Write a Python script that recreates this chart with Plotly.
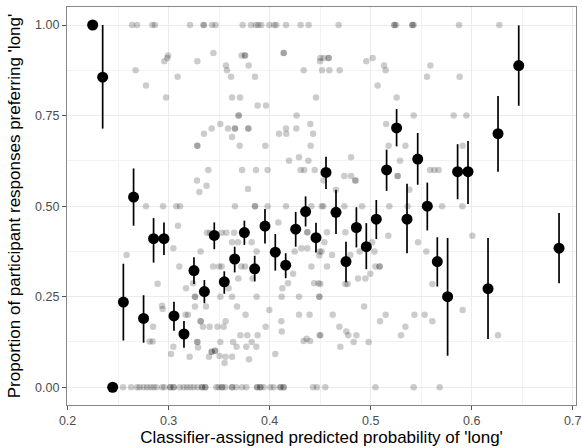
import plotly.graph_objects as go

# Binned means (black points) with intervals
bin_x = [0.2248, 0.2347, 0.2446, 0.2552, 0.2653, 0.2752, 0.2851, 0.2954, 0.3053, 0.3152,
         0.3251, 0.3354, 0.3452, 0.3551, 0.3654, 0.3750, 0.3852, 0.3954, 0.4056, 0.4159,
         0.4258, 0.4356, 0.4459, 0.4558, 0.4657, 0.4756, 0.4859, 0.4957, 0.5056, 0.5158,
         0.5257, 0.5360, 0.5466, 0.5561, 0.5660, 0.5762, 0.5861, 0.5964, 0.6162, 0.6261,
         0.6466, 0.6865]
bin_y = [1.000, 0.856, 0.000, 0.235, 0.525, 0.190, 0.410, 0.410, 0.197, 0.147,
         0.322, 0.264, 0.419, 0.291, 0.354, 0.427, 0.327, 0.445, 0.373, 0.337,
         0.4365, 0.485, 0.413, 0.593, 0.483, 0.347, 0.441, 0.388, 0.464, 0.600,
         0.716, 0.464, 0.630, 0.500, 0.347, 0.250, 0.595, 0.595, 0.272, 0.700,
         0.888, 0.384]
bin_lo = [1.000, 0.714, 0.000, 0.129, 0.446, 0.123, 0.344, 0.365, 0.156, 0.109,
          0.285, 0.232, 0.381, 0.258, 0.317, 0.393, 0.292, 0.397, 0.322, 0.301,
          0.388, 0.444, 0.372, 0.547, 0.423, 0.290, 0.386, 0.326, 0.409, 0.542,
          0.665, 0.370, 0.559, 0.433, 0.278, 0.087, 0.519, 0.506, 0.133, 0.595,
          0.777, 0.287]
bin_hi = [1.000, 1.000, 0.000, 0.341, 0.604, 0.254, 0.467, 0.455, 0.236, 0.183,
          0.359, 0.296, 0.455, 0.320, 0.388, 0.460, 0.363, 0.492, 0.423, 0.370,
          0.484, 0.527, 0.454, 0.636, 0.545, 0.402, 0.497, 0.453, 0.517, 0.656,
          0.768, 0.562, 0.702, 0.565, 0.414, 0.412, 0.671, 0.680, 0.412, 0.804,
          0.999, 0.481]

# Individual items (grey points)
item_x = [
    # y = 1
    0.2638, 0.2687, 0.2839, 0.2865, 0.3212, 0.3347, 0.3347, 0.3430, 0.3465, 0.3733,
    0.3816, 0.3865, 0.3888, 0.3918, 0.3997, 0.4046, 0.4066, 0.4162, 0.4307, 0.4386,
    0.4683, 0.5235, 0.5235, 0.5252, 0.5413, 0.5413, 0.5426, 0.5875, 0.6274,
    # upper region
    0.2673, 0.2776, 0.2974, 0.2957, 0.2994, 0.2987, 0.3089, 0.3284, 0.3443, 0.3568,
    0.3578, 0.3618, 0.3628, 0.3707, 0.3723, 0.3756, 0.3756, 0.3792, 0.3855, 0.3881,
    0.3964, 0.4139, 0.4139, 0.4337, 0.4459, 0.4499, 0.4502, 0.4535, 0.4584, 0.4584,
    0.4519, 0.4591, 0.4693,
    0.3693, 0.3693, 0.3512, 0.3426, 0.3350, 0.3588, 0.3657, 0.3657, 0.3628, 0.3789,
    0.3789, 0.3284, 0.3284, 0.3703, 0.3957, 0.4093, 0.4162, 0.4165, 0.4267, 0.4264,
    0.4403, 0.4430, 0.4406, 0.4192, 0.4291, 0.4383, 0.3393, 0.3727, 0.3865, 0.3980,
    0.4307, 0.4343, 0.4446, 0.3281, 0.3376, 0.3304, 0.3786, 0.4535,
    0.4957, 0.5020, 0.5133, 0.5149, 0.5069, 0.5257, 0.5591, 0.5558, 0.5881, 0.5426,
    0.5822, 0.5948, 0.5153, 0.5178, 0.5344, 0.5291, 0.5267, 0.5267, 0.4806, 0.4740,
    0.4806, 0.4849, 0.4849, 0.4657, 0.5383, 0.5588, 0.5631, 0.5673, 0.5911,
    # y = 0.5
    0.2776, 0.2945, 0.3076, 0.3113, 0.3657, 0.3855, 0.3855, 0.3980, 0.4162, 0.4413,
    0.4515, 0.4532, 0.4740, 0.4915, 0.5185, 0.5366, 0.5707, 0.5908,
    # lower-left region
    0.3093, 0.2584, 0.3047, 0.3317, 0.3380, 0.3410, 0.3525, 0.3571, 0.3648, 0.3628,
    0.3687, 0.3822, 0.3871, 0.4086, 0.3440, 0.3499, 0.3525, 0.3106, 0.3720, 0.3756,
    0.3172, 0.2891, 0.3242, 0.3261, 0.3261, 0.3370, 0.3261, 0.3512, 0.3628, 0.3594,
    0.3690, 0.3832, 0.3871, 0.4119, 0.3677, 0.3762, 0.3997, 0.4126, 0.4182, 0.4232,
    0.4291, 0.4440, 0.4485, 0.4413, 0.4248, 0.4314, 0.4373, 0.4495, 0.4515, 0.4373,
    0.4373, 0.4492, 0.4396, 0.4291, 0.4492, 0.4492, 0.4495, 0.4337, 0.4366, 0.4400,
    0.2846, 0.2812, 0.2842, 0.2935, 0.2941, 0.3168, 0.3192, 0.3317, 0.3317, 0.3340,
    0.3406, 0.3485, 0.3545, 0.3564, 0.3961, 0.4116, 0.4120, 0.3284, 0.3284, 0.3291,
    0.3047, 0.3024, 0.3208, 0.3400, 0.3426, 0.3426, 0.3460, 0.3460, 0.3512, 0.3638,
    0.3505, 0.3564, 0.3628, 0.3554, 0.3673, 0.3710, 0.3779, 0.3822, 0.3769, 0.3868,
    0.3881, 0.3796, 0.4056,
    # lower-right region
    0.4568, 0.4750, 0.4542, 0.4618, 0.4799, 0.4568, 0.4891, 0.5037, 0.5014, 0.5175,
    0.5047, 0.5089, 0.5089, 0.5469, 0.5551, 0.6007, 0.4750, 0.4772, 0.4875, 0.4948,
    0.4997, 0.5611, 0.4502, 0.4935, 0.4624, 0.5093, 0.5149, 0.5433, 0.5535, 0.5611,
    0.5911, 0.4690, 0.4759, 0.4779, 0.4859, 0.4832, 0.4700, 0.4980, 0.4502, 0.5301,
    0.5344, 0.6261,
    # y = 0
    0.2549, 0.2628, 0.2687, 0.2713, 0.2752, 0.2786, 0.2819, 0.2851, 0.2878, 0.2935,
    0.2957, 0.3016, 0.3016, 0.3050, 0.3050, 0.3109, 0.3149, 0.3182, 0.3215, 0.3248,
    0.3287, 0.3331, 0.3331, 0.3363, 0.3363, 0.3472, 0.3495, 0.3529, 0.3529, 0.3561,
    0.3628, 0.3628, 0.3670, 0.3727, 0.3769, 0.3875, 0.3875, 0.3908, 0.3908, 0.3941,
    0.4007, 0.4040, 0.4106, 0.4106, 0.4139, 0.4139, 0.4430, 0.4469, 0.4551, 0.5047,
    0.5426, 0.5683,
]
item_y = (
    [1.0] * 29
    + [0.875, 0.833, 0.800, 0.900, 0.916, 0.909, 0.857, 0.900, 0.923, 0.888,
       0.875, 0.857, 0.800, 0.800, 0.916, 0.916, 0.916, 0.888, 0.857, 0.778,
       0.778, 0.923, 0.923, 0.875, 0.800, 0.900, 0.909, 0.909, 0.909, 0.909,
       0.875, 0.875, 0.875,
       0.750, 0.750, 0.727, 0.714, 0.700, 0.714, 0.714, 0.714, 0.691, 0.714,
       0.714, 0.667, 0.667, 0.667, 0.667, 0.700, 0.714, 0.700, 0.750, 0.714,
       0.727, 0.700, 0.667, 0.625, 0.635, 0.625, 0.600, 0.600, 0.600, 0.600,
       0.600, 0.600, 0.600, 0.571, 0.556, 0.539, 0.547, 0.571,
       0.900, 0.909, 0.888, 0.875, 0.833, 0.800, 0.888, 0.857, 0.857, 0.750,
       0.750, 0.750, 0.727, 0.667, 0.667, 0.625, 0.583, 0.583, 0.635, 0.583,
       0.583, 0.571, 0.571, 0.545, 0.545, 0.600, 0.600, 0.600, 0.667]
    + [0.5] * 18
    + [0.446, 0.365, 0.384, 0.375, 0.4265, 0.4265, 0.4265, 0.4265, 0.4265, 0.400,
       0.400, 0.400, 0.375, 0.455, 0.333, 0.333, 0.333, 0.333, 0.333, 0.333,
       0.2735, 0.286, 0.287, 0.250, 0.250, 0.223, 0.223, 0.250, 0.250, 0.2735,
       0.300, 0.300, 0.250, 0.250, 0.223, 0.200, 0.2135, 0.2735, 0.287, 0.313,
       0.250, 0.287, 0.287, 0.333, 0.375, 0.384, 0.384, 0.375, 0.375, 0.428,
       0.428, 0.364, 0.200, 0.200, 0.250, 0.250, 0.1436, 0.128, 0.134, 0.128,
       0.167, 0.126, 0.126, 0.225, 0.216, 0.200, 0.200, 0.182, 0.182, 0.167,
       0.167, 0.167, 0.167, 0.182, 0.167, 0.182, 0.154, 0.125, 0.125, 0.110,
       0.112, 0.092, 0.0845, 0.0845, 0.098, 0.098, 0.101, 0.101, 0.125, 0.125,
       0.0865, 0.0845, 0.0845, 0.067, 0.112, 0.1436, 0.1436, 0.125, 0.112, 0.112,
       0.1436, 0.077, 0.092]
    + [0.428, 0.428, 0.400, 0.365, 0.365, 0.333, 0.375, 0.375, 0.400, 0.418,
       0.333, 0.333, 0.333, 0.400, 0.375, 0.418, 0.285, 0.285, 0.300, 0.300,
       0.313, 0.285, 0.285, 0.223, 0.200, 0.182, 0.200, 0.200, 0.200, 0.182,
       0.2135, 0.167, 0.154, 0.1436, 0.1436, 0.125, 0.112, 0.125, 0.1436, 0.1436,
       0.167, 0.1436]
    + [0.0] * 52
)

x_ticks = [0.2, 0.3, 0.4, 0.5, 0.6, 0.7]
x_tick_labels = ["0.2", "0.3", "0.4", "0.5", "0.6", "0.7"]
y_ticks = [0.0, 0.25, 0.5, 0.75, 1.0]
y_tick_labels = ["0.00", "0.25", "0.50", "0.75", "1.00"]

err_plus = [h - m for h, m in zip(bin_hi, bin_y)]
err_minus = [m - l for m, l in zip(bin_y, bin_lo)]

fig = go.Figure()
fig.add_trace(go.Scatter(
    x=item_x, y=item_y, mode="markers",
    marker=dict(size=6.5, color="rgba(0,0,0,0.2)", line=dict(width=0)),
    hoverinfo="skip", showlegend=False,
))
fig.add_trace(go.Scatter(
    x=bin_x, y=bin_y, mode="markers",
    marker=dict(size=11, color="black", line=dict(width=0)),
    error_y=dict(type="data", symmetric=False, array=err_plus, arrayminus=err_minus,
                 width=0, thickness=1.7, color="black"),
    showlegend=False,
))

axis_common = dict(
    showline=True, linecolor="#888888", linewidth=1.2, mirror=True,
    ticks="outside", ticklen=4, tickcolor="#555555", tickwidth=1,
    showgrid=True, gridcolor="#EBEBEB", gridwidth=1.1, zeroline=False,
    tickfont=dict(family="Liberation Sans, Arial, sans-serif", size=12.5, color="#4D4D4D"),
    title_font=dict(family="Liberation Sans, Arial, sans-serif", size=17, color="black"),
)

fig.update_xaxes(
    range=[0.1994, 0.7033], tickvals=x_ticks, ticktext=x_tick_labels,
    title_text="Classifier-assigned predicted probability of 'long'", title_standoff=3,
    minor=dict(dtick=0.05, tick0=0.15, showgrid=True, gridcolor="#F2F2F2", gridwidth=0.6, ticks=""),
    **axis_common,
)
fig.update_yaxes(
    range=[-0.049, 1.0497], tickvals=y_ticks, ticktext=y_tick_labels,
    title_text="Proportion of participant responses preferring 'long'", title_standoff=10,
    minor=dict(dtick=0.125, tick0=0.125, showgrid=True, gridcolor="#F2F2F2", gridwidth=0.6, ticks=""),
    **axis_common,
)

fig.update_layout(
    width=582, height=448,
    margin=dict(l=67, r=6, t=7, b=43, autoexpand=False),
    plot_bgcolor="white", paper_bgcolor="white",
    font=dict(family="Liberation Sans, Arial, sans-serif"),
)

fig.write_html(
    "out.html",
    config={"displayModeBar": False},
    post_script="document.body.style.margin='0';document.body.style.overflow='hidden';",
)
